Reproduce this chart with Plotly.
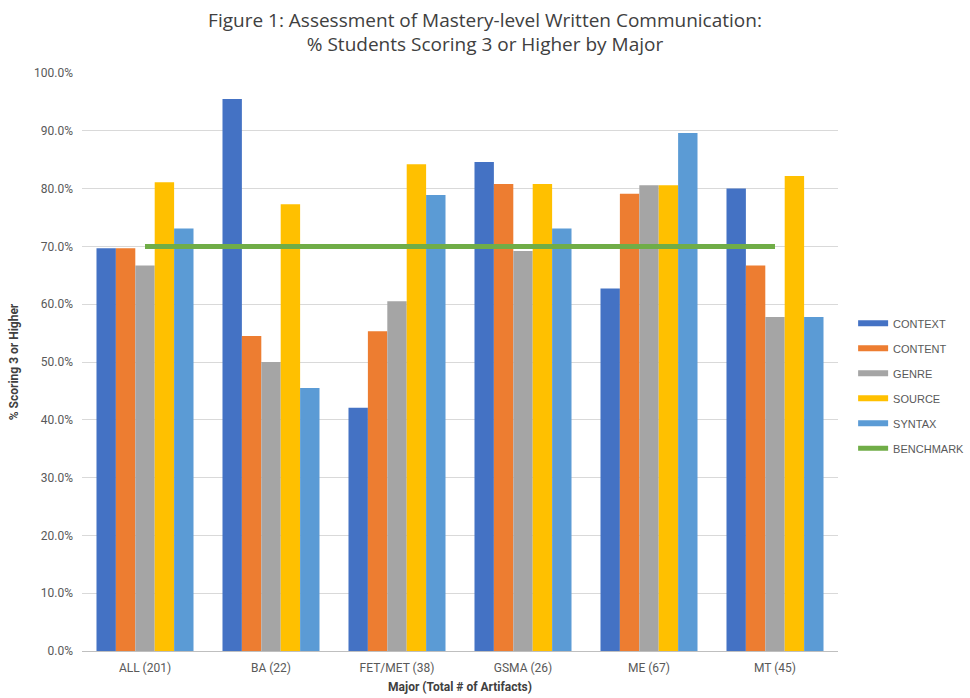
import plotly.graph_objects as go

# Majors (with artifact counts) along the category axis
majors = ["ALL (201)", "BA (22)", "FET/MET (38)", "GSMA (26)", "ME (67)", "MT (45)"]

# Share of students scoring 3 or higher, per rubric criterion
context = [0.697, 0.955, 0.421, 0.846, 0.627, 0.800]
content = [0.697, 0.545, 0.553, 0.808, 0.791, 0.667]
genre = [0.667, 0.500, 0.605, 0.692, 0.806, 0.578]
source = [0.811, 0.773, 0.842, 0.808, 0.806, 0.822]
syntax = [0.731, 0.455, 0.789, 0.731, 0.896, 0.578]
benchmark = [0.70, 0.70, 0.70, 0.70, 0.70, 0.70]

series = [
    ("CONTEXT", context, "#4472C4"),
    ("CONTENT", content, "#ED7D31"),
    ("GENRE", genre, "#A5A5A5"),
    ("SOURCE", source, "#FFC000"),
    ("SYNTAX", syntax, "#5B9BD5"),
]
bench_color = "#70AD47"

tick_font = dict(family="Roboto, Arial", size=12, color="#595959")
axis_title_font = dict(family="Roboto, Arial", size=12, color="#404040")

fig = go.Figure()

for name, vals, color in series:
    fig.add_trace(go.Bar(
        x=majors, y=vals, name=name, marker=dict(color=color, line=dict(width=0)),
        showlegend=False, legendgroup=name,
    ))

fig.add_trace(go.Scatter(
    x=majors, y=benchmark, name="BENCHMARK", mode="lines",
    line=dict(color=bench_color, width=5), showlegend=False, legendgroup="BENCHMARK",
))

# Legend entries drawn as wide line swatches
for name, _, color in series:
    fig.add_trace(go.Scatter(
        x=[None], y=[None], mode="lines", name=name,
        line=dict(color=color, width=6), legendgroup=name,
    ))
fig.add_trace(go.Scatter(
    x=[None], y=[None], mode="lines", name="BENCHMARK",
    line=dict(color=bench_color, width=5), legendgroup="BENCHMARK",
))

fig.update_layout(
    width=970, height=698,
    margin=dict(l=82, r=132, t=73, b=47, autoexpand=False),
    paper_bgcolor="white", plot_bgcolor="white",
    barmode="group", bargap=0.23, bargroupgap=0,
    title=dict(
        text="Figure 1: Assessment of Mastery-level Written Communication:<br>% Students Scoring 3 or Higher by Major",
        x=0.5, xanchor="center", yref="container", y=0.962, yanchor="middle",
        font=dict(family="Open Sans, Arial", size=19, color="#404040"),
    ),
    legend=dict(
        x=1.02, xanchor="left", y=0.592, yanchor="top",
        font=dict(family="Liberation Sans, Arial", size=11, color="#595959"),
        tracegroupgap=6, traceorder="grouped",
        bgcolor="rgba(0,0,0,0)",
    ),
    showlegend=True,
)

fig.update_yaxes(
    range=[0, 1.0], dtick=0.1, tickformat=".1%",
    showgrid=True, gridcolor="#D9D9D9", gridwidth=1,
    zeroline=False, showline=False, ticks="",
    tickfont=tick_font, ticklabelstandoff=8,
    title=dict(text="<b>% Scoring 3 or Higher</b>", font=axis_title_font, standoff=12),
)
fig.update_xaxes(
    showline=True, linecolor="#BFBFBF", linewidth=1,
    showgrid=False, ticks="", tickfont=tick_font, ticklabelstandoff=6,
    title=dict(text="<b>Major (Total # of Artifacts)</b>", font=axis_title_font, standoff=8),
)

fig.write_html("out.html")
